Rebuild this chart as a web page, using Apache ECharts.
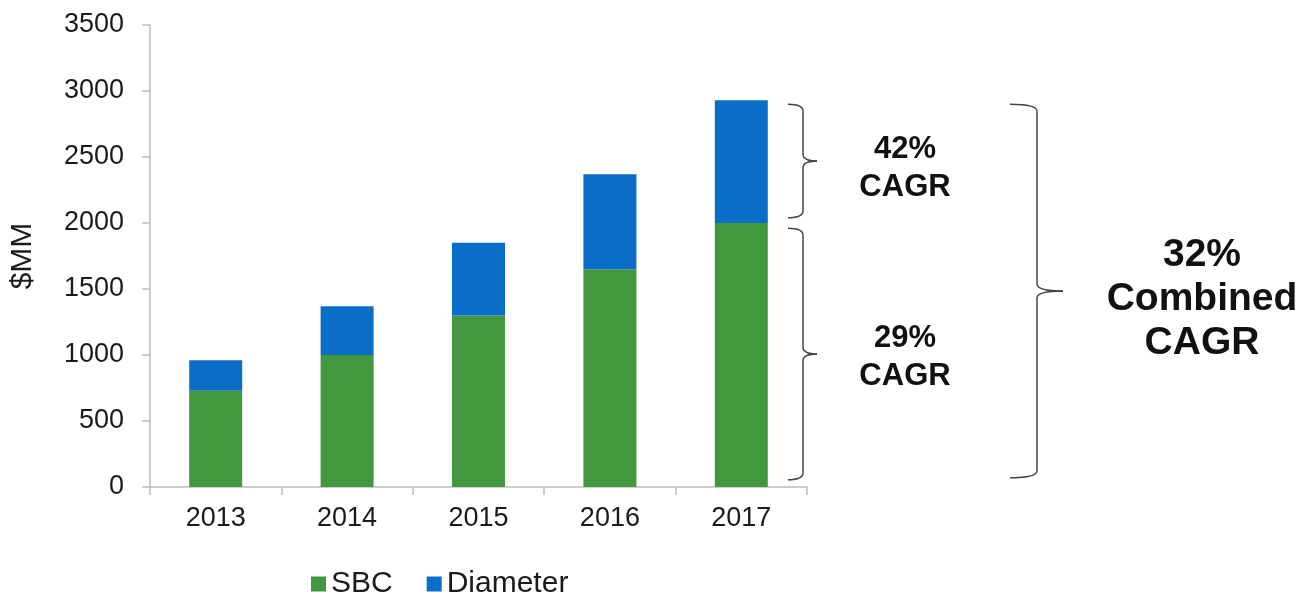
<!DOCTYPE html>
<html>
<head>
<meta charset="utf-8">
<script src="https://cdn.jsdelivr.net/npm/echarts@6/dist/echarts.min.js"></script>
<style>html,body{margin:0;padding:0;background:#fff;}#c{width:1306px;height:592px;}</style>
</head>
<body>
<div id="c"></div>
<script>
const categories = ['2013', '2014', '2015', '2016', '2017'];
const sbc = [730, 1000, 1300, 1650, 2000];
const diameter = [230, 370, 550, 720, 930];
const yTicks = { min: 0, max: 3500, interval: 500 };
// brace spans in data units: [top, bottom]
const braceSpans = [[2900, 2040], [1960, 55], [2900, 70]];
const braceLabels = ['42%\nCAGR', '29%\nCAGR', '32%\nCombined\nCAGR'];

const FONT = '"Liberation Sans", Arial, sans-serif';
const chart = echarts.init(document.getElementById('c'), null, { renderer: 'canvas' });

const option = {
  animation: false,
  backgroundColor: '#ffffff',
  grid: { left: 149, right: 499, top: 25, bottom: 105, containLabel: false },
  legend: {
    data: ['SBC', 'Diameter'],
    left: 306, top: 564,
    itemWidth: 15, itemHeight: 15, itemGap: 34,
    icon: 'rect',
    textStyle: { fontFamily: FONT, fontSize: 30, color: '#1a1a1a' }
  },
  xAxis: {
    type: 'category',
    data: categories,
    axisLine: { lineStyle: { color: '#bdbdbd', width: 1.5 } },
    axisTick: { show: true, length: 8, lineStyle: { color: '#bdbdbd', width: 1.5 } },
    axisLabel: { fontFamily: FONT, fontSize: 27, color: '#1a1a1a', margin: 18 }
  },
  yAxis: {
    type: 'value',
    min: yTicks.min, max: yTicks.max, interval: yTicks.interval,
    name: '$MM', nameLocation: 'middle', nameGap: 112, nameRotate: 90,
    nameTextStyle: { fontFamily: FONT, fontSize: 30, color: '#1a1a1a' },
    axisLine: { show: true, lineStyle: { color: '#bdbdbd', width: 1.5 } },
    axisTick: { show: true, length: 8, lineStyle: { color: '#bdbdbd', width: 1.5 } },
    axisLabel: { fontFamily: FONT, fontSize: 27, color: '#1a1a1a', margin: 26, formatter: v => String(v) },
    splitLine: { show: false }
  },
  series: [
    { name: 'SBC', type: 'bar', stack: 't', data: sbc, barWidth: 53, itemStyle: { color: '#43983f' } },
    { name: 'Diameter', type: 'bar', stack: 't', data: diameter, barWidth: 53, itemStyle: { color: '#0a6ec8' } }
  ]
};
chart.setOption(option);

function brace(x0, x1, x2, yt, yb, r) {
  const ym = (yt + yb) / 2;
  const st = { stroke: '#444', lineWidth: 1.5, fill: null };
  return [
    { type: 'bezierCurve', shape: { x1: x0, y1: yt, x2: x1, y2: yt + r, cpx1: x1, cpy1: yt }, style: st },
    { type: 'line', shape: { x1: x1, y1: yt + r, x2: x1, y2: ym - r }, style: st },
    { type: 'bezierCurve', shape: { x1: x1, y1: ym - r, x2: x2, y2: ym, cpx1: x1, cpy1: ym }, style: st },
    { type: 'bezierCurve', shape: { x1: x2, y1: ym, x2: x1, y2: ym + r, cpx1: x1, cpy1: ym }, style: st },
    { type: 'line', shape: { x1: x1, y1: ym + r, x2: x1, y2: yb - r }, style: st },
    { type: 'bezierCurve', shape: { x1: x1, y1: yb - r, x2: x0, y2: yb, cpx1: x1, cpy1: yb }, style: st }
  ];
}
const py = v => chart.convertToPixel({ yAxisIndex: 0 }, v);
const els = [];
const bx = [[788, 803, 817], [788, 803, 817], [1010, 1037, 1063]];
braceSpans.forEach((s, i) => {
  const [a, b, c] = bx[i];
  brace(a, b, c, py(s[0]), py(s[1]), 7).forEach(e => els.push(e));
});
const tx = [905, 905, 1202];
const tsize = [31, 31, 39];
const tlh = [38, 38, 44];
const tdy = [7, 3, 8];
braceSpans.forEach((s, i) => {
  const ym = (py(s[0]) + py(s[1])) / 2;
  els.push({
    type: 'text', x: tx[i], y: ym + tdy[i],
    style: {
      text: braceLabels[i], fontFamily: FONT, fontWeight: 'bold', fontSize: tsize[i],
      lineHeight: tlh[i], fill: '#111', align: 'center', verticalAlign: 'middle'
    }
  });
});
chart.setOption({ graphic: { elements: els } });
</script>
</body>
</html>
